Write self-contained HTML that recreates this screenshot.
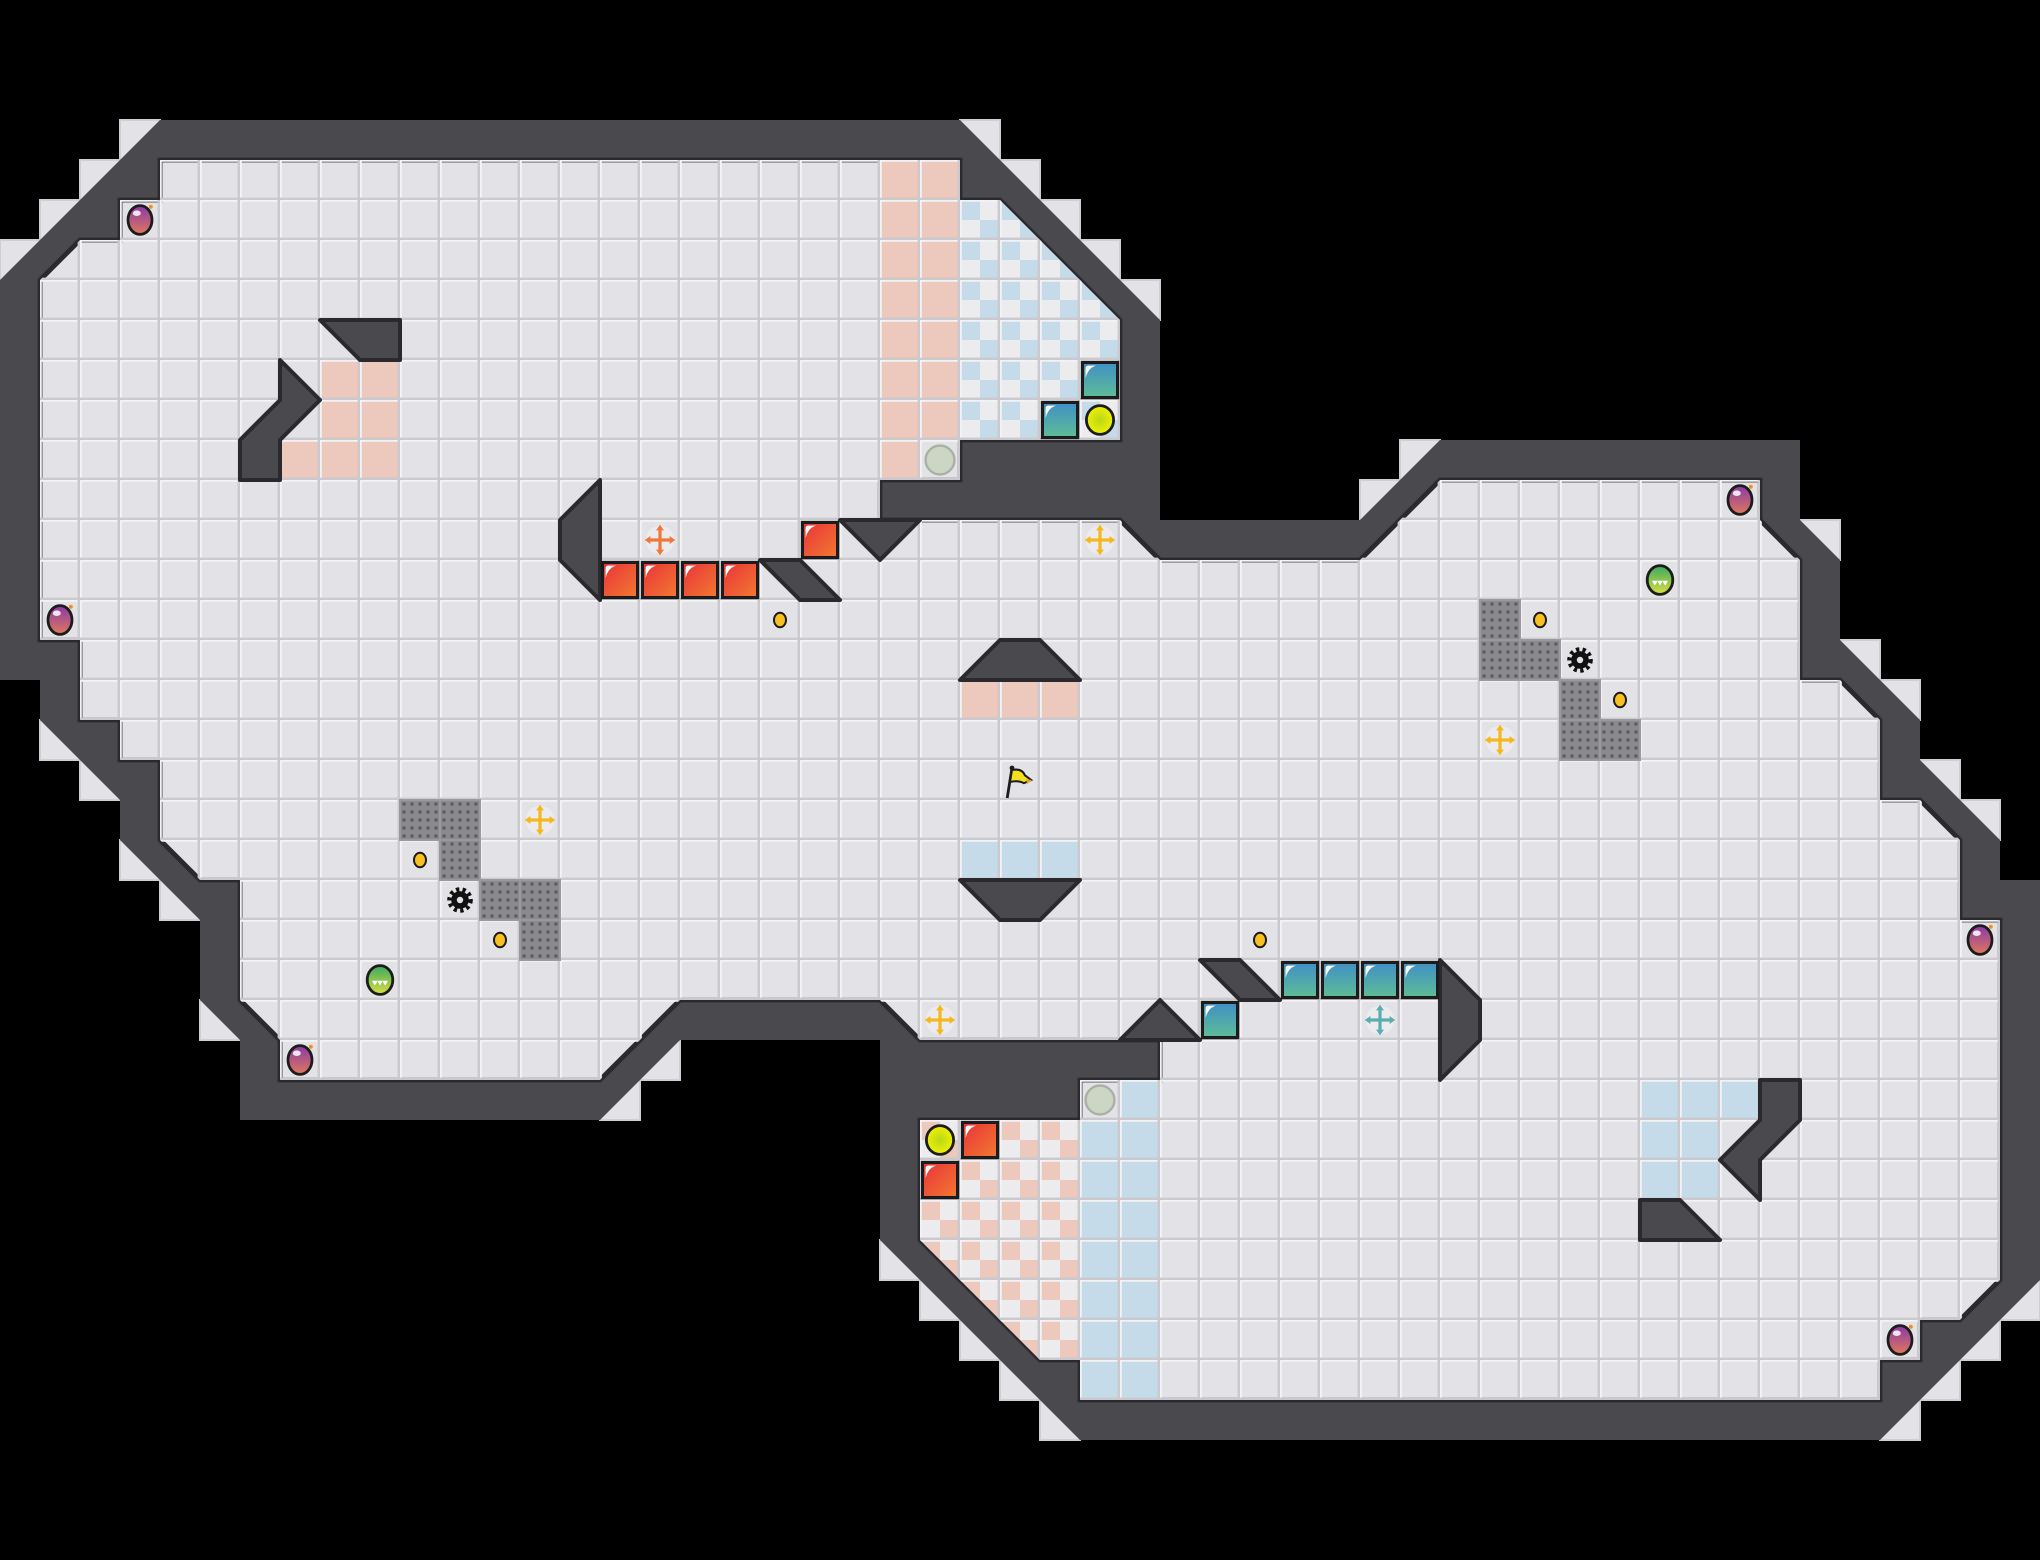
<!DOCTYPE html>
<html><head><meta charset="utf-8"><style>
html,body{margin:0;padding:0;background:#000;}
svg{display:block;}
</style></head><body>
<svg width="2040" height="1560" viewBox="0 0 51 39" xmlns="http://www.w3.org/2000/svg">
<defs>
<pattern id="grid" x="0" y="0" width="1" height="1" patternUnits="userSpaceOnUse">
<path d="M0 0.02H1M0.02 0V1" stroke="#f3f3f5" stroke-width="0.05" fill="none"/>
<path d="M0.97 0V1M0 0.97H1" stroke="#c9c9ce" stroke-width="0.06" fill="none"/>
</pattern>
<pattern id="chkB" x="0" y="0" width="1" height="1" patternUnits="userSpaceOnUse">
<rect width="1" height="1" fill="#ececef"/><rect width="0.5" height="0.5" fill="#c6dbea"/><rect x="0.5" y="0.5" width="0.5" height="0.5" fill="#c6dbea"/>
</pattern>
<pattern id="chkP" x="0" y="0" width="1" height="1" patternUnits="userSpaceOnUse">
<rect width="1" height="1" fill="#ececef"/><rect width="0.5" height="0.5" fill="#ecc9bc"/><rect x="0.5" y="0.5" width="0.5" height="0.5" fill="#ecc9bc"/>
</pattern>
<pattern id="dots" x="0" y="0" width="0.2" height="0.2" patternUnits="userSpaceOnUse">
<rect width="0.2" height="0.2" fill="#8a8a8e"/><circle cx="0.1" cy="0.1" r="0.045" fill="#5e5e62"/>
</pattern>
<linearGradient id="red" x1="0" y1="0" x2="1" y2="1"><stop offset="0" stop-color="#e8323a"/><stop offset="1" stop-color="#f37a30"/></linearGradient>
<linearGradient id="teal" x1="0" y1="0" x2="0" y2="1"><stop offset="0" stop-color="#3f8fc6"/><stop offset="1" stop-color="#5fbd96"/></linearGradient>
<linearGradient id="pur" x1="0" y1="0" x2="0" y2="1"><stop offset="0" stop-color="#8a3aa8"/><stop offset="1" stop-color="#e0785a"/></linearGradient>
<linearGradient id="grn" x1="0" y1="0" x2="0" y2="1"><stop offset="0" stop-color="#3aa860"/><stop offset="1" stop-color="#d8e040"/></linearGradient>
<radialGradient id="yg"><stop offset="0" stop-color="#b8d81c"/><stop offset="1" stop-color="#f0f000"/></radialGradient>
<clipPath id="fl"><polygon id="flp" points="4,4 24,4 24,5 25,5 28,8 28,11 24,11 24,12 22,12 22,13 28,13 29,14 34,14 36,12 44,12 44,13 45,14 45,17 46,17 47,18 47,20 48,20 49,21 49,23 50,23 50,32 49,33 48,33 48,34 47,34 47,35 27,35 27,34 26,34 23,31 23,28 27,28 27,27 29,27 29,26 23,26 22,25 17,25 15,27 7,27 7,26 6,25 6,22 5,22 4,21 4,19 3,19 3,18 2,18 2,16 1,16 1,7 2,6 3,6 3,5 4,5"/></clipPath>
<g id="red1"><rect x="0.06" y="0.06" width="0.88" height="0.88" fill="url(#red)" stroke="#1c1c1c" stroke-width="0.08"/><path d="M0.14 0.45V0.2Q0.14 0.14 0.22 0.14H0.4Q0.2 0.2 0.14 0.45Z" fill="#fff"/></g>
<g id="teal1"><rect x="0.06" y="0.06" width="0.88" height="0.88" fill="url(#teal)" stroke="#1c1c1c" stroke-width="0.08"/><path d="M0.14 0.45V0.2Q0.14 0.14 0.22 0.14H0.4Q0.2 0.2 0.14 0.45Z" fill="#fff"/></g>
<g id="pot"><ellipse cx="0" cy="0" rx="0.3" ry="0.36" fill="url(#pur)" stroke="#1c1c1c" stroke-width="0.07"/><ellipse cx="-0.08" cy="-0.17" rx="0.1" ry="0.07" fill="#fff" opacity="0.85"/><circle cx="0.27" cy="-0.33" r="0.05" fill="#f09020"/></g>
<g id="pill"><ellipse cx="0" cy="0" rx="0.32" ry="0.36" fill="url(#grn)" stroke="#1c1c1c" stroke-width="0.07"/><path d="M-0.2 0.02H0.2L0.13 0.14L0.06 0.03L0 0.14L-0.06 0.03L-0.13 0.14Z" fill="#fff"/></g>
<g id="coin"><ellipse cx="0" cy="0" rx="0.15" ry="0.18" fill="#f7c020" stroke="#1c1c1c" stroke-width="0.05"/></g>
<g id="gear"><circle r="0.22" fill="#111"/><circle r="0.26" fill="none" stroke="#111" stroke-width="0.12" stroke-dasharray="0.08 0.08"/><circle r="0.08" fill="#e3e3e7"/></g>
<g id="cross"><circle r="0.35" fill="#f0f0f2" opacity="0.7"/><path d="M0 -0.38L0.1 -0.24H0.04V-0.04H0.24V-0.1L0.38 0L0.24 0.1V0.04H0.04V0.24H0.1L0 0.38L-0.1 0.24H-0.04V0.04H-0.24V0.1L-0.38 0L-0.24 -0.1V-0.04H-0.04V-0.24H-0.1Z"/></g>
</defs>
<rect width="51" height="39" fill="#000"/>
<!-- stair light cells -->
<g fill="#e3e3e7" stroke="#cfcfd3" stroke-width="0.05">
<rect x="3" y="3" width="1" height="1"/><rect x="2" y="4" width="1" height="1"/><rect x="1" y="5" width="1" height="1"/><rect x="0" y="6" width="1" height="1"/>
<rect x="24" y="3" width="1" height="1"/><rect x="25" y="4" width="1" height="1"/><rect x="26" y="5" width="1" height="1"/><rect x="27" y="6" width="1" height="1"/><rect x="28" y="7" width="1" height="1"/>
<rect x="35" y="11" width="1" height="1"/><rect x="34" y="12" width="1" height="1"/><rect x="45" y="13" width="1" height="1"/><rect x="46" y="16" width="1" height="1"/><rect x="47" y="17" width="1" height="1"/><rect x="48" y="19" width="1" height="1"/><rect x="49" y="20" width="1" height="1"/>
<rect x="50" y="32" width="1" height="1"/><rect x="49" y="33" width="1" height="1"/><rect x="48" y="34" width="1" height="1"/><rect x="47" y="35" width="1" height="1"/>
<rect x="22" y="31" width="1" height="1"/><rect x="23" y="32" width="1" height="1"/><rect x="24" y="33" width="1" height="1"/><rect x="25" y="34" width="1" height="1"/><rect x="26" y="35" width="1" height="1"/>
<rect x="15" y="27" width="1" height="1"/><rect x="16" y="26" width="1" height="1"/>
<rect x="1" y="18" width="1" height="1"/><rect x="2" y="19" width="1" height="1"/><rect x="3" y="21" width="1" height="1"/><rect x="4" y="22" width="1" height="1"/><rect x="5" y="25" width="1" height="1"/>
</g>
<!-- walls -->
<polygon points="4,3 24,3 29,8 29,13 34,13 36,11 45,11 45,13 46,14 46,16 48,18 48,19 50,21 50,22 51,22 51,32 47,36 27,36 22,31 22,26 17,26 15,28 6,28 6,26 5,25 5,23 3,21 3,20 1,18 1,17 0,17 0,7" fill="#4a494e"/>
<!-- floor -->
<use href="#flp" fill="#e3e3e7" stroke="#2a2a2e" stroke-width="0.12"/>
<g clip-path="url(#fl)">
<g fill="#ecc9bc">
<rect x="8" y="9" width="2" height="3"/><rect x="7" y="11" width="1" height="1"/>
<rect x="22" y="4" width="2" height="7"/><rect x="22" y="11" width="1" height="1"/>
<rect x="24" y="17" width="3" height="1"/>
</g>
<rect x="24" y="5" width="4" height="6" fill="url(#chkB)"/>
<rect x="23" y="28" width="4" height="7" fill="url(#chkP)"/>
<g fill="#c6dbea">
<rect x="24" y="21" width="3" height="1"/>
<rect x="28" y="27" width="1" height="1"/><rect x="27" y="28" width="2" height="7"/>
<rect x="41" y="27" width="3" height="1"/><rect x="41" y="28" width="2" height="2"/>
</g>
<rect x="0" y="0" width="51" height="39" fill="url(#grid)"/>
</g>
<!-- interior wall obstacles -->
<g fill="#4a494e" stroke="#2a2a2e" stroke-width="0.1" stroke-linejoin="round">
<polygon points="8,8 10,8 10,9 9,9"/>
<polygon points="7,9 8,10 7,11 7,12 6,12 6,11 7,10"/>
<polygon points="21,13 23,13 22,14"/>
<polygon points="15,12 15,15 14,14 14,13"/>
<polygon points="19,14 20,14 21,15 20,15"/>
<polygon points="24,17 27,17 26,16 25,16"/>
<polygon points="24,22 27,22 26,23 25,23"/>
<polygon points="28,26 29,25 30,26"/>
<polygon points="30,24 31,24 32,25 31,25"/>
<polygon points="36,24 37,25 37,26 36,27"/>
<polygon points="44,27 45,27 45,28 44,29 44,30 43,29 44,28"/>
<polygon points="41,30 42,30 43,31 41,31"/>
</g>
<!-- metal blocks -->
<g fill="url(#dots)" stroke="#9a9a9e" stroke-width="0.05">
<rect x="10" y="20" width="1" height="1"/><rect x="11" y="20" width="1" height="1"/><rect x="11" y="21" width="1" height="1"/><rect x="12" y="22" width="1" height="1"/><rect x="13" y="22" width="1" height="1"/><rect x="13" y="23" width="1" height="1"/>
<rect x="37" y="15" width="1" height="1"/><rect x="37" y="16" width="1" height="1"/><rect x="38" y="16" width="1" height="1"/><rect x="39" y="17" width="1" height="1"/><rect x="39" y="18" width="1" height="1"/><rect x="40" y="18" width="1" height="1"/>
</g>
<!-- tiles -->
<use href="#red1" x="15" y="14"/><use href="#red1" x="16" y="14"/><use href="#red1" x="17" y="14"/><use href="#red1" x="18" y="14"/><use href="#red1" x="20" y="13"/>
<use href="#red1" x="24" y="28"/><use href="#red1" x="23" y="29"/>
<use href="#teal1" x="27" y="9"/><use href="#teal1" x="26" y="10"/>
<use href="#teal1" x="32" y="24"/><use href="#teal1" x="33" y="24"/><use href="#teal1" x="34" y="24"/><use href="#teal1" x="35" y="24"/><use href="#teal1" x="30" y="25"/>
<!-- circles -->
<ellipse cx="23.5" cy="11.5" rx="0.36" ry="0.36" fill="#ccd6c4" stroke="#aab0a8" stroke-width="0.06"/>
<ellipse cx="27.5" cy="27.5" rx="0.36" ry="0.36" fill="#ccd6c4" stroke="#aab0a8" stroke-width="0.06"/>
<ellipse cx="27.5" cy="10.5" rx="0.34" ry="0.36" fill="url(#yg)" stroke="#1c1c1c" stroke-width="0.07"/>
<ellipse cx="23.5" cy="28.5" rx="0.34" ry="0.36" fill="url(#yg)" stroke="#1c1c1c" stroke-width="0.07"/>
<!-- potions -->
<use href="#pot" x="3.5" y="5.5"/><use href="#pot" x="1.5" y="15.5"/><use href="#pot" x="7.5" y="26.5"/><use href="#pot" x="43.5" y="12.5"/><use href="#pot" x="49.5" y="23.5"/><use href="#pot" x="47.5" y="33.5"/>
<use href="#pill" x="9.5" y="24.5"/><use href="#pill" x="41.5" y="14.5"/>
<!-- coins -->
<use href="#coin" x="19.5" y="15.5"/><use href="#coin" x="10.5" y="21.5"/><use href="#coin" x="12.5" y="23.5"/><use href="#coin" x="38.5" y="15.5"/><use href="#coin" x="40.5" y="17.5"/><use href="#coin" x="31.5" y="23.5"/>
<use href="#gear" x="11.5" y="22.5"/><use href="#gear" x="39.5" y="16.5"/>
<!-- crosses -->
<g fill="#f5b820"><use href="#cross" x="13.5" y="20.5"/><use href="#cross" x="27.5" y="13.5"/><use href="#cross" x="37.5" y="18.5"/><use href="#cross" x="23.5" y="25.5"/></g>
<g fill="#f07838"><use href="#cross" x="16.5" y="13.5"/></g>
<g fill="#5aaeae"><use href="#cross" x="34.5" y="25.5"/></g>
<!-- flag -->
<g transform="translate(25,19)">
<line x1="0.18" y1="0.95" x2="0.3" y2="0.2" stroke="#1c1c1c" stroke-width="0.07"/>
<circle cx="0.3" cy="0.2" r="0.06" fill="#1c1c1c"/>
<path d="M0.3 0.25Q0.55 0.2 0.62 0.38L0.78 0.5L0.6 0.58Q0.45 0.5 0.25 0.55Z" fill="#f0e020" stroke="#1c1c1c" stroke-width="0.05"/>
<path d="M0.65 0.48L0.8 0.5L0.68 0.6Z" fill="#f0a020"/>
</g>
</svg>
</body></html>
